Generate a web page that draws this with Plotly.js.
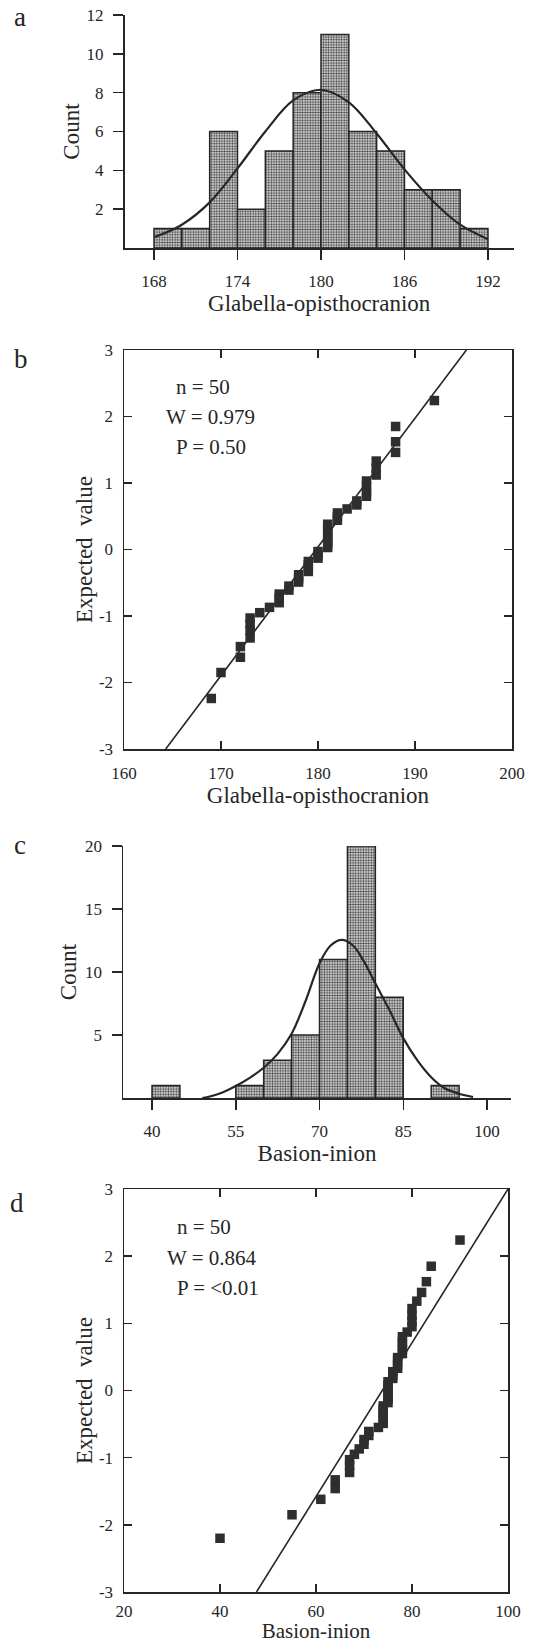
<!DOCTYPE html>
<html>
<head>
<meta charset="utf-8">
<script src="https://cdn.plot.ly/plotly-3.0.1.min.js"></script>
<style>
  html, body { margin: 0; padding: 0; background: #ffffff; }
  #chart { width: 553px; height: 1643px; }
</style>
</head>
<body>
<div id="chart"></div>
<script>
// ---------------- data ----------------
// a: histogram of glabella-opisthocranion (bin centres, width 2)
const glabBinCenters = [169, 171, 173, 175, 177, 179, 181, 183, 185, 187, 189, 191];
const glabCounts     = [1, 1, 6, 2, 5, 8, 11, 6, 5, 3, 3, 1];
const glabHistTicks  = [168, 174, 180, 186, 192];
const glabCountTicks = [2, 4, 6, 8, 10, 12];
// fitted normal curve
const glabCurveX = [168, 170, 172, 174, 176, 178, 180, 182, 184, 186, 188, 190, 192];
const glabCurveY = [0.55, 1.2, 2.35, 4.1, 6.0, 7.6, 8.15, 7.5, 5.9, 4.05, 2.45, 1.2, 0.45];

// b: normal probability plot, glabella-opisthocranion
const glabQQx = [169, 170, 172, 172, 173, 173, 173, 173, 174, 175,
                 176, 176, 176, 177, 177, 178, 178, 178, 179, 179,
                 179, 179, 180, 180, 180, 181, 181, 181, 181, 181,
                 181, 181, 181, 182, 182, 182, 183, 184, 184, 185,
                 185, 185, 185, 186, 186, 186, 188, 188, 188, 192];
const glabQQy = [-2.24, -1.85, -1.62, -1.46, -1.33, -1.22, -1.12, -1.03, -0.95, -0.87,
                 -0.80, -0.73, -0.67, -0.61, -0.55, -0.49, -0.44, -0.38, -0.33, -0.28,
                 -0.23, -0.18, -0.13, -0.08, -0.03, 0.03, 0.08, 0.13, 0.18, 0.23,
                 0.28, 0.33, 0.38, 0.44, 0.49, 0.55, 0.61, 0.67, 0.73, 0.80,
                 0.87, 0.95, 1.03, 1.12, 1.22, 1.33, 1.46, 1.62, 1.85, 2.24];
const glabLineX = [164.3, 195.3];
const glabLineY = [-3, 3];
const glabQQTicks = [160, 170, 180, 190, 200];
const glabStats = ['n = 50', 'W = 0.979', 'P = 0.50'];

// c: histogram of basion-inion (bin centres, width 5)
const basBinCenters = [42.5, 57.5, 62.5, 67.5, 72.5, 77.5, 82.5, 92.5];
const basCounts     = [1, 1, 3, 5, 11, 20, 8, 1];
const basHistTicks  = [40, 55, 70, 85, 100];
const basCountTicks = [5, 10, 15, 20];
const basCurveX = [49, 50, 52.5, 55, 57.5, 60, 62.5, 65, 67.5, 70, 72, 74, 76, 78, 80, 82.5, 85, 87.5, 90, 92.5, 95, 97.5];
const basCurveY = [0, 0.08, 0.42, 0.95, 1.6, 2.4, 3.5, 5.1, 7.7, 10.7, 12.1, 12.55, 12.1, 10.8, 9.1, 7.0, 4.75, 3.0, 1.65, 0.75, 0.34, 0.08];

// d: normal probability plot, basion-inion
const basQQx = [40, 55, 61, 64, 64, 67, 67, 67, 68, 69,
                70, 70, 71, 71, 73, 74, 74, 74, 74, 74,
                74, 75, 75, 75, 75, 75, 75, 75, 76, 76,
                76, 77, 77, 77, 77, 78, 78, 78, 78, 78,
                79, 80, 80, 80, 80, 81, 82, 83, 84, 90];
const basQQy = [-2.2, -1.85, -1.62, -1.46, -1.33, -1.22, -1.12, -1.03, -0.95, -0.87,
                -0.80, -0.73, -0.67, -0.61, -0.55, -0.49, -0.44, -0.38, -0.33, -0.28,
                -0.23, -0.18, -0.13, -0.08, -0.03, 0.03, 0.08, 0.13, 0.18, 0.23,
                0.28, 0.33, 0.38, 0.44, 0.49, 0.55, 0.61, 0.67, 0.73, 0.80,
                0.87, 0.95, 1.03, 1.12, 1.22, 1.33, 1.46, 1.62, 1.85, 2.24];
const basLineX = [47.6, 100];
const basLineY = [-3, 3];
const basQQTicks = [20, 40, 60, 80, 100];
const basStats = ['n = 50', 'W = 0.864', 'P = &lt;0.01'];

const expTicks = [-3, -2, -1, 0, 1, 2, 3];
const expTickText = ['-3', '-2', '-1', '0', '1', '2', '3'];
const panelLetters = ['a', 'b', 'c', 'd'];

// ---------------- styling / layout ----------------
const W = 553, H = 1643;
const fx = p => p / W;
const fy = p => 1 - p / H;
const SERIF = '"Liberation Serif", "Times New Roman", serif';
const INK = '#262626';

function axisBase(extra) {
  return Object.assign({
    showgrid: false, zeroline: false, showline: true,
    linecolor: INK, linewidth: 1.5, tickcolor: INK, tickwidth: 1.5,
    tickfont: { family: SERIF, size: 17, color: INK },
    tickmode: 'array', fixedrange: true, automargin: false
  }, extra);
}
const titleFont = { family: SERIF, size: 23, color: INK };

const barPattern = { shape: '.', fillmode: 'replace', fgcolor: '#444444', bgcolor: '#f2f2f2', size: 2.6, solidity: 0.5 };

const traces = [
  { type: 'bar', x: glabBinCenters, y: glabCounts, width: 2, xaxis: 'x', yaxis: 'y',
    marker: { color: '#bdbdbd', pattern: barPattern, line: { color: INK, width: 1.5 } },
    hoverinfo: 'skip', showlegend: false },
  { type: 'scatter', mode: 'lines', x: glabCurveX, y: glabCurveY, xaxis: 'x', yaxis: 'y',
    line: { color: INK, width: 2.2, shape: 'spline', smoothing: 1 }, showlegend: false },
  { type: 'scatter', mode: 'lines', x: glabLineX, y: glabLineY, xaxis: 'x2', yaxis: 'y2',
    line: { color: INK, width: 1.6 }, showlegend: false },
  { type: 'scatter', mode: 'markers', x: glabQQx, y: glabQQy, xaxis: 'x2', yaxis: 'y2',
    marker: { symbol: 'square', size: 9.5, color: '#2e2e2e' }, showlegend: false },
  { type: 'bar', x: basBinCenters, y: basCounts, width: 5, xaxis: 'x3', yaxis: 'y3',
    marker: { color: '#bdbdbd', pattern: barPattern, line: { color: INK, width: 1.5 } },
    hoverinfo: 'skip', showlegend: false },
  { type: 'scatter', mode: 'lines', x: basCurveX, y: basCurveY, xaxis: 'x3', yaxis: 'y3',
    line: { color: INK, width: 2.2, shape: 'spline', smoothing: 1 }, showlegend: false },
  { type: 'scatter', mode: 'lines', x: basLineX, y: basLineY, xaxis: 'x4', yaxis: 'y4',
    line: { color: INK, width: 1.6 }, showlegend: false },
  { type: 'scatter', mode: 'markers', x: basQQx, y: basQQy, xaxis: 'x4', yaxis: 'y4',
    marker: { symbol: 'square', size: 9.5, color: '#2e2e2e' }, showlegend: false }
];

function statNotes(lines, xs, ys, xref, yref) {
  return lines.map((t, i) => ({
    text: t, x: xs[i], y: ys[i], xref: xref, yref: yref,
    xanchor: 'left', yanchor: 'middle', showarrow: false,
    font: { family: SERIF, size: 21, color: INK }
  }));
}

const letterY = [17, 359, 845, 1203];
const letterX = [12, 12, 12, 8];
const letterNotes = panelLetters.map((t, i) => ({
  text: t, x: fx(letterX[i]), y: fy(letterY[i]), xref: 'paper', yref: 'paper',
  xanchor: 'left', yanchor: 'middle', showarrow: false,
  font: { family: SERIF, size: 27, color: INK }
}));

const layout = {
  width: W, height: H,
  margin: { l: 0, r: 0, t: 0, b: 0 },
  paper_bgcolor: '#ffffff', plot_bgcolor: '#ffffff',
  showlegend: false, barmode: 'overlay',
  font: { family: SERIF, color: INK },

  xaxis: axisBase({ domain: [fx(124.5), fx(514)], range: [165.88, 193.87], anchor: 'y',
    tickvals: glabHistTicks, ticks: 'outside', ticklen: 10, ticklabelstandoff: 7,
    title: { text: 'Glabella-opisthocranion', font: titleFont, standoff: 3 } }),
  yaxis: axisBase({ domain: [fy(248), fy(15)], range: [0, 12], anchor: 'x',
    tickvals: glabCountTicks, ticks: 'outside', ticklen: 10, ticklabelstandoff: 6,
    title: { text: 'Count', font: titleFont, standoff: 0 } }),

  xaxis2: axisBase({ domain: [fx(124), fx(512)], range: [160, 200], anchor: 'y2',
    tickvals: glabQQTicks, ticks: 'inside', ticklen: 8, mirror: 'ticks', ticklabelstandoff: 8,
    title: { text: 'Glabella-opisthocranion', font: titleFont, standoff: 3 } }),
  yaxis2: axisBase({ domain: [fy(749), fy(350)], range: [-3, 3], anchor: 'x2',
    tickvals: expTicks, ticktext: expTickText, ticks: 'inside', ticklen: 8, mirror: 'ticks', ticklabelstandoff: 6,
    title: { text: 'Expected\u00a0 value', font: titleFont, standoff: 0 } }),

  xaxis3: axisBase({ domain: [fx(123), fx(511)], range: [34.8, 104.3], anchor: 'y3',
    tickvals: basHistTicks, ticks: 'outside', ticklen: 10, ticklabelstandoff: 7,
    title: { text: 'Basion-inion', font: titleFont, standoff: 3 } }),
  yaxis3: axisBase({ domain: [fy(1098), fy(846)], range: [0, 20], anchor: 'x3',
    tickvals: basCountTicks, ticks: 'outside', ticklen: 10, ticklabelstandoff: 6,
    title: { text: 'Count', font: titleFont, standoff: 2 } }),

  xaxis4: axisBase({ domain: [fx(124), fx(508)], range: [20, 100], anchor: 'y4',
    tickvals: basQQTicks, ticks: 'inside', ticklen: 8, mirror: 'ticks', ticklabelstandoff: 3,
    title: { text: 'Basion-inion', font: { family: SERIF, size: 21, color: INK }, standoff: 0 } }),
  yaxis4: axisBase({ domain: [fy(1592), fy(1189)], range: [-3, 3], anchor: 'x4',
    tickvals: expTicks, ticktext: expTickText, ticks: 'inside', ticklen: 8, mirror: 'ticks', ticklabelstandoff: 6,
    title: { text: 'Expected\u00a0 value', font: titleFont, standoff: 0 } }),

  annotations: []
    .concat(statNotes(glabStats, [165.15, 164.1, 165.15], [2.45, 1.99, 1.54], 'x2', 'y2'))
    .concat(statNotes(basStats, [30.6, 28.5, 30.6], [2.44, 1.98, 1.52], 'x4', 'y4'))
    .concat(letterNotes)
};

Plotly.newPlot('chart', traces, layout, { displayModeBar: false, staticPlot: true });
</script>
</body>
</html>
